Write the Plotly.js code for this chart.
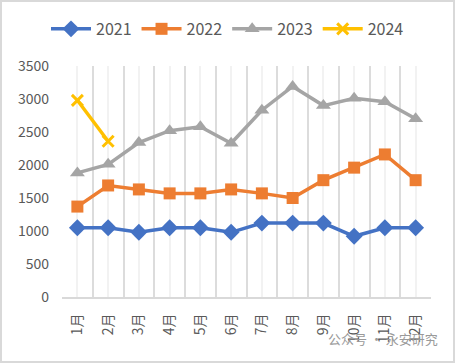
<!DOCTYPE html>
<html><head><meta charset="utf-8">
<script src="https://cdn.plot.ly/plotly-3.0.1.min.js"></script>
<style>
html,body{margin:0;padding:0;background:#fff;}
#chart{width:451px;height:359px;border:2px solid #d9d9d9;}
</style></head>
<body><div id="chart"></div>
<script>
const months = ['1月','2月','3月','4月','5月','6月','7月','8月','9月','10月','11月','12月'];
const monthPos = [1,2,3,4,5,6,7,8,9,10,11,12];
const boundaries = [0.5,1.5,2.5,3.5,4.5,5.5,6.5,7.5,8.5,9.5,10.5,11.5,12.5];
const s2021 = [1050,1050,980,1050,1050,980,1120,1120,1120,920,1050,1050];
const s2022 = [1370,1690,1630,1570,1570,1630,1570,1500,1770,1960,2160,1770];
const s2023 = [1880,2010,2340,2520,2580,2330,2830,3190,2900,3010,2960,2700];
const s2024 = [2980,2360];
const yTicks = [0,500,1000,1500,2000,2500,3000,3500];

const font = {family:'"Noto Sans CJK SC", "Noto Sans", sans-serif', color:'#595959'};
function tr(name, y, color, sym, size){
  return {x: monthPos.slice(0,y.length), y:y, name:name, type:'scatter', mode:'lines+markers',
    line:{color:color,width:3.5}, marker:{symbol:sym,size:size,color:color,line:{width:sym==='x-thin'?3:0,color:color}}};
}
const data = [
  tr('2021', s2021, '#4472C4', 'diamond', 13),
  tr('2022', s2022, '#ED7D31', 'square', 12),
  tr('2023', s2023, '#A5A5A5', 'triangle-up', 13),
  tr('2024', s2024, '#FFC000', 'x-thin', 11),
  {x:[1], y:[null], xaxis:'x2', yaxis:'y', showlegend:false, hoverinfo:'skip', type:'scatter', mode:'lines'}
];
const layout = {
  width:451, height:359,
  margin:{l:60,r:22,t:64,b:64},
  paper_bgcolor:'#fff', plot_bgcolor:'#fff',
  showlegend:true,
  legend:{orientation:'h', xref:'container', x:0.5, xanchor:'center', yref:'container', y:0.925, yanchor:'middle', font:{...font, size:16}, itemwidth:40, tracegroupgap:0},
  xaxis:{range:[0.5,12.5], tickmode:'array', tickvals:monthPos, ticktext:months, tickangle:-90,
    showgrid:true, gridcolor:'#f2f2f2', gridwidth:2,
    showline:true, linecolor:'#d9d9d9', linewidth:2, zeroline:false,
    tickfont:{...font, size:14}, ticks:'', ticklabelstandoff:9, fixedrange:true},
  xaxis2:{range:[0.5,12.5], overlaying:'x', side:'bottom', tickmode:'array', tickvals:boundaries,
    showticklabels:false, showgrid:true, gridcolor:'#dcdcdc', gridwidth:2, zeroline:false, showline:false, ticks:'', fixedrange:true},
  yaxis:{range:[0,3500], tickmode:'array', tickvals:yTicks, showgrid:false, zeroline:false, showline:false,
    tickfont:{...font, size:14}, ticks:'', ticklabelstandoff:12, fixedrange:true},
  annotations:[{xref:'paper', yref:'paper', x:1.024, y:-0.18, xanchor:'right', yanchor:'middle', showarrow:false,
    text:'公众号 · 永安研究', font:{family:'"Noto Sans CJK SC", sans-serif', size:13, color:'#9a9a9a'}}]
};
Plotly.newPlot('chart', data, layout, {displayModeBar:false, staticPlot:true});
</script></body></html>
